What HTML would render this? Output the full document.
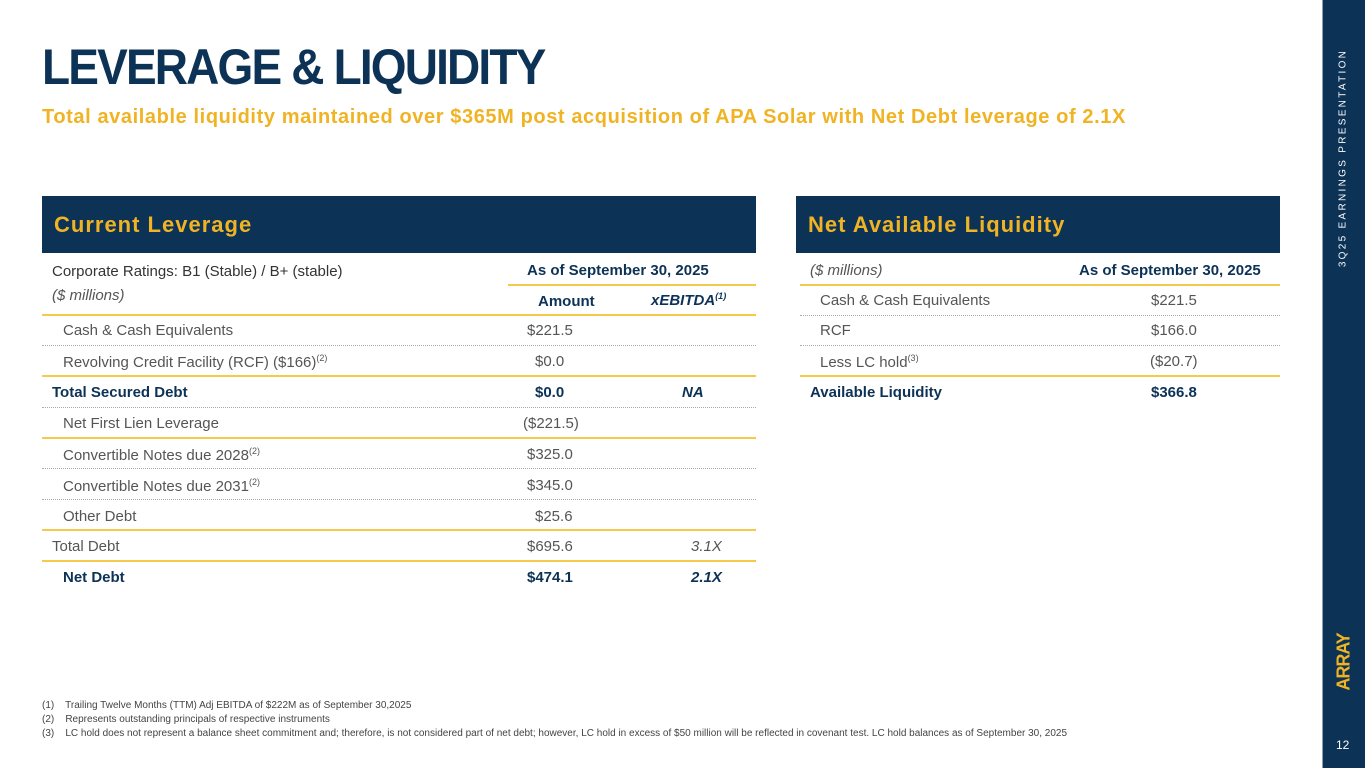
<!DOCTYPE html>
<html><head><meta charset="utf-8"><style>
*{margin:0;padding:0;box-sizing:border-box}
body{width:1365px;height:768px;position:relative;background:#fff;font-family:"Liberation Sans",sans-serif;overflow:hidden}
.a{position:absolute;white-space:nowrap}
.side{position:absolute;left:1322px;top:0;width:43px;height:768px;background:#0c3256;border-left:1px solid #8aa0b4}
.hdr{position:absolute;top:196px;height:57px;background:#0c3256;color:#f0b323;font-size:22px;font-weight:bold;padding-left:12px;line-height:57px;letter-spacing:1px}
.t{font-size:15px;color:#555}
.b{font-weight:bold;color:#0c3256}
.g{position:absolute;height:0;border-top:2px solid #f5c94a}
.d{position:absolute;height:0;border-top:1px dotted #aaa}
sup{font-size:9px;vertical-align:6px}
.fn{font-size:10px;color:#444}
</style></head><body>
<div class="a" style="left:42px;top:38px;font-size:50px;font-weight:bold;color:#0c3256;letter-spacing:-2px;transform:scaleX(0.92);transform-origin:left">LEVERAGE &amp; LIQUIDITY</div>
<div class="a" style="left:42px;top:106px;font-size:20px;font-weight:bold;color:#f0b323;letter-spacing:0.6px">Total available liquidity maintained over $365M post acquisition of APA Solar with Net Debt leverage of 2.1X</div>

<div class="hdr" style="left:42px;width:714px">Current Leverage</div>
<div class="hdr" style="left:796px;width:484px">Net Available Liquidity</div>

<!-- left table -->
<div class="a t" style="left:52px;top:263px;color:#333">Corporate Ratings: B1 (Stable) / B+ (stable)</div>
<div class="a t" style="left:52px;top:287px;font-style:italic">($ millions)</div>
<div class="a t b" style="left:527px;top:262px">As of September 30, 2025</div>
<div class="g" style="left:508px;top:284px;width:248px"></div>
<div class="a t b" style="left:538px;top:293px">Amount</div>
<div class="a t b" style="left:651px;top:291px;font-style:italic">xEBITDA<sup>(1)</sup></div>
<div class="g" style="left:42px;top:314px;width:714px"></div>

<div class="a t" style="left:63px;top:322px">Cash &amp; Cash Equivalents</div><div class="a t" style="left:527px;top:322px">$221.5</div>
<div class="d" style="left:42px;top:345px;width:714px"></div>
<div class="a t" style="left:63px;top:353px">Revolving Credit Facility (RCF) ($166)<sup>(2)</sup></div><div class="a t" style="left:535px;top:353px">$0.0</div>
<div class="g" style="left:42px;top:375px;width:714px"></div>
<div class="a t b" style="left:52px;top:384px">Total Secured Debt</div><div class="a t b" style="left:535px;top:384px">$0.0</div><div class="a t b" style="left:682px;top:384px;font-style:italic">NA</div>
<div class="d" style="left:42px;top:407px;width:714px"></div>
<div class="a t" style="left:63px;top:415px">Net First Lien Leverage</div><div class="a t" style="left:523px;top:415px">($221.5)</div>
<div class="g" style="left:42px;top:437px;width:714px"></div>
<div class="a t" style="left:63px;top:446px">Convertible Notes due 2028<sup>(2)</sup></div><div class="a t" style="left:527px;top:446px">$325.0</div>
<div class="d" style="left:42px;top:468px;width:714px"></div>
<div class="a t" style="left:63px;top:477px">Convertible Notes due 2031<sup>(2)</sup></div><div class="a t" style="left:527px;top:477px">$345.0</div>
<div class="d" style="left:42px;top:499px;width:714px"></div>
<div class="a t" style="left:63px;top:508px">Other Debt</div><div class="a t" style="left:535px;top:508px">$25.6</div>
<div class="g" style="left:42px;top:529px;width:714px"></div>
<div class="a t" style="left:52px;top:538px">Total Debt</div><div class="a t" style="left:527px;top:538px">$695.6</div><div class="a t" style="left:691px;top:538px;font-style:italic">3.1X</div>
<div class="g" style="left:42px;top:560px;width:714px"></div>
<div class="a t b" style="left:63px;top:569px">Net Debt</div><div class="a t b" style="left:527px;top:569px">$474.1</div><div class="a t b" style="left:691px;top:569px;font-style:italic">2.1X</div>

<!-- right table -->
<div class="a t" style="left:810px;top:262px;font-style:italic">($ millions)</div>
<div class="a t b" style="left:1079px;top:262px">As of September 30, 2025</div>
<div class="g" style="left:800px;top:284px;width:480px"></div>
<div class="a t" style="left:820px;top:292px">Cash &amp; Cash Equivalents</div><div class="a t" style="left:1151px;top:292px">$221.5</div>
<div class="d" style="left:800px;top:315px;width:480px"></div>
<div class="a t" style="left:820px;top:322px">RCF</div><div class="a t" style="left:1151px;top:322px">$166.0</div>
<div class="d" style="left:800px;top:345px;width:480px"></div>
<div class="a t" style="left:820px;top:353px">Less LC hold<sup>(3)</sup></div><div class="a t" style="left:1150px;top:353px">($20.7)</div>
<div class="g" style="left:800px;top:375px;width:480px"></div>
<div class="a t b" style="left:810px;top:384px">Available Liquidity</div><div class="a t b" style="left:1151px;top:384px">$366.8</div>

<div class="a fn" style="left:42px;top:700px">(1)&nbsp;&nbsp;&nbsp; Trailing Twelve Months (TTM) Adj EBITDA of $222M as of September 30,2025</div>
<div class="a fn" style="left:42px;top:714px">(2)&nbsp;&nbsp;&nbsp; Represents outstanding principals of respective instruments</div>
<div class="a fn" style="left:42px;top:728px">(3)&nbsp;&nbsp;&nbsp; LC hold does not represent a balance sheet commitment and; therefore, is not considered part of net debt; however, LC hold in excess of $50 million will be reflected in covenant test. LC hold balances as of September 30, 2025</div>

<div class="side"></div>
<div class="a" style="left:1343px;top:158px;transform:translate(-50%,-50%) rotate(-90deg);color:#fff;font-size:10px;letter-spacing:2.3px">3Q25 EARNINGS PRESENTATION</div>
<div class="a" style="left:1344px;top:662px;transform:translate(-50%,-50%) rotate(-90deg);color:#f0b323;font-size:18px;font-weight:bold;letter-spacing:-1px">ARRAY</div>
<div class="a" style="left:1336px;top:738px;color:#fff;font-size:12px">12</div>
</body></html>
